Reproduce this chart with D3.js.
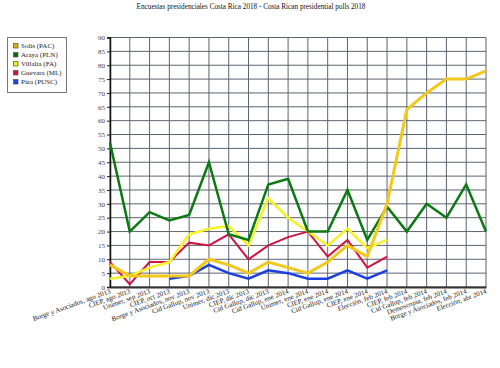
<!DOCTYPE html>
<html><head><meta charset="utf-8">
<script src="https://cdn.jsdelivr.net/npm/d3@7"></script>
<style>
html,body{margin:0;padding:0;background:#fff;}
text{font-family:"Liberation Serif","Times New Roman",serif;}
</style></head>
<body>
<svg id="chart" width="500" height="368"></svg>
<script>
const title = "Encuestas presidenciales Costa Rica 2018 - Costa Rican presidential polls 2018";
const categories = [
  "Borge y Asociados, ago 2013","CIEP, ago 2013","Unimer, sep 2013","CIEP, oct 2013",
  "Borge y Asociados, nov 2013","Cid Gallup, nov 2013","Unimer, dic 2013","CIEP, dic 2013",
  "Cid Gallup, dic 2013","Cid Gallup, ene 2014","Unimer, ene 2014","CIEP, ene 2014",
  "Cid Gallup, ene 2014","CIEP, ene 2014","Elección, feb 2014","CIEP, feb 2014",
  "Cid Gallup, feb 2014","Demoscopia, feb 2014","Borge y Asociados, feb 2014","Elección, abr 2014"];
const solis    = [8,4,4,4,4,10,8,5,9,7,5,9,15,11,30,64,70,75,75,78];
const araya    = [52,20,27,24,26,45,19,17,37,39,20,20,35,17,29,20,30,25,37,20];
const villalta = [3,4,7,9,19,21,22,15,32,25,20,15,21,14,17,null,null,null,null,null];
const guevara  = [9,1,9,9,16,15,19,10,15,18,20,11,17,7,11,null,null,null,null,null];
const piza     = [null,null,null,3,4,8,5,3,6,5,3,3,6,3,6,null,null,null,null,null];
const seriesNames = ["Solís (PAC)","Araya (PLN)","Villalta (FA)","Guevara (ML)","Piza (PUSC)"];
const seriesColors = ["#f2c81a","#0b7a12","#f6f22a","#cf1444","#1b3fe0"];
const swatchColors = ["#d9b400","#086a0c","#eeee10","#cc1444","#1a44dd"];
const seriesWidths = [3,2.5,2.5,2,2.5];
const yTicks = d3.range(0,91,5);

const svg = d3.select("#chart");
const m = {left:110, right:486, top:37.5, bottom:287};
const idx = categories.map((c,i)=>i);
const x = d3.scalePoint().domain(idx).range([m.left, m.right]);
const y = d3.scaleLinear().domain([0,90]).range([m.bottom, m.top]);

svg.append("text").attr("x",251).attr("y",9).attr("text-anchor","middle")
  .attr("font-size",7.2).attr("fill","#111").text(title);

// grid
const grid = svg.append("g");
grid.selectAll("line.h").data(yTicks).join("line")
  .attr("x1",m.left).attr("x2",m.right).attr("y1",d=>y(d)).attr("y2",d=>y(d))
  .attr("stroke","#5d6370").attr("stroke-width",1);
grid.selectAll("line.v").data(idx).join("line")
  .attr("x1",d=>x(d)).attr("x2",d=>x(d)).attr("y1",m.top).attr("y2",m.bottom)
  .attr("stroke","#5d6370").attr("stroke-width",1);

// y axis
const ya = svg.append("g").attr("transform",`translate(${m.left},0)`)
  .call(d3.axisLeft(y).tickValues(yTicks).tickSize(3).tickPadding(2));
ya.select(".domain").attr("stroke","#111").attr("stroke-width",1.5);
ya.selectAll("text").attr("font-size",7).attr("fill","#444").attr("font-family","Liberation Serif, serif");
ya.selectAll(".tick line").attr("stroke","#222");

// x axis
const xa = svg.append("g").attr("transform",`translate(0,${m.bottom})`)
  .call(d3.axisBottom(x).tickSize(0).tickFormat(""));
xa.select(".domain").attr("stroke","#333").attr("stroke-width",2);
svg.append("g").selectAll("text").data(idx).join("text")
  .attr("transform",d=>`translate(${x(d)+1},${m.bottom+6}) rotate(-20)`)
  .attr("text-anchor","end").attr("font-size",7).attr("fill","#222").text(d=>categories[d]);

// lines
const data = [solis, araya, villalta, guevara, piza];
const line = d3.line().defined(d=>d!=null).x((d,i)=>x(i)).y(d=>y(d));
const order = [4,3,2,1,0];
order.forEach(k=>{
  svg.append("path").datum(data[k]).attr("d",line).attr("fill","none")
    .attr("stroke",seriesColors[k]).attr("stroke-width",seriesWidths[k])
    .attr("stroke-linejoin","miter");
});

// legend
const lg = svg.append("g");
lg.append("rect").attr("x",7.5).attr("y",37.5).attr("width",59).attr("height",55)
  .attr("fill","#fff").attr("stroke","#777");
seriesNames.forEach((n,i)=>{
  const yy = 46 + i*9;
  lg.append("rect").attr("x",13.5).attr("y",yy-2.5).attr("width",4.5).attr("height",4.5)
    .attr("fill",swatchColors[i]).attr("stroke","#555").attr("stroke-width",0.7);
  lg.append("text").attr("x",21).attr("y",yy+2.4).attr("font-size",7).attr("fill","#222").text(n);
});
</script>
</body></html>
